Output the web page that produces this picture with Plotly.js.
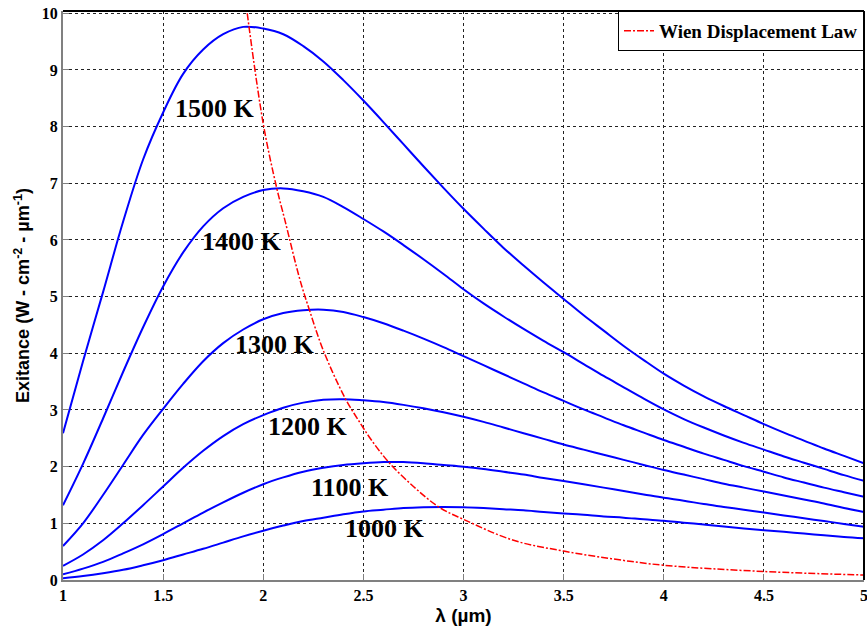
<!DOCTYPE html>
<html>
<head>
<meta charset="utf-8">
<script src="https://cdn.plot.ly/plotly-3.0.1.min.js"></script>
<style>html,body{margin:0;padding:0;background:#fff;}#chart{width:867px;height:627px;}</style>
</head>
<body>
<div id="chart"></div>
<script>
// wavelength grid (µm), step 0.1 from 1 to 5
const lam = [1.0, 1.1, 1.2, 1.3, 1.4, 1.5, 1.6, 1.7, 1.8, 1.9,
             2.0, 2.1, 2.2, 2.3, 2.4, 2.5, 2.6, 2.7, 2.8, 2.9,
             3.0, 3.1, 3.2, 3.3, 3.4, 3.5, 3.6, 3.7, 3.8, 3.9,
             4.0, 4.1, 4.2, 4.3, 4.4, 4.5, 4.6, 4.7, 4.8, 4.9, 5.0];

// exitance (W·cm^-2·µm^-1)
const ex1500 = [2.59, 3.86, 5.08, 6.32, 7.42, 8.25, 8.93, 9.36, 9.63, 9.76,
                9.73, 9.63, 9.42, 9.15, 8.82, 8.46, 8.08, 7.69, 7.30, 6.92,
                6.55, 6.20, 5.86, 5.55, 5.25, 4.96, 4.67, 4.40, 4.13, 3.88,
                3.64, 3.43, 3.24, 3.07, 2.91, 2.75, 2.60, 2.46, 2.32, 2.19, 2.06];
const ex1400 = [1.32, 2.05, 2.85, 3.67, 4.46, 5.18, 5.78, 6.24, 6.56, 6.76,
                6.88, 6.91, 6.86, 6.76, 6.58, 6.37, 6.15, 5.91, 5.66, 5.40,
                5.13, 4.88, 4.65, 4.43, 4.22, 4.02, 3.81, 3.60, 3.40, 3.20,
                3.01, 2.84, 2.69, 2.55, 2.42, 2.30, 2.18, 2.07, 1.96, 1.85, 1.75];
const ex1300 = [0.60, 1.00, 1.50, 2.03, 2.56, 3.02, 3.46, 3.86, 4.18, 4.42,
                4.60, 4.71, 4.76, 4.77, 4.73, 4.64, 4.53, 4.40, 4.26, 4.11,
                3.95, 3.79, 3.63, 3.47, 3.31, 3.16, 3.01, 2.87, 2.73, 2.60,
                2.47, 2.35, 2.23, 2.12, 2.01, 1.91, 1.81, 1.72, 1.63, 1.55, 1.47];
const ex1200 = [0.25, 0.45, 0.70, 1.00, 1.32, 1.65, 1.98, 2.28, 2.54, 2.75,
                2.91, 3.04, 3.13, 3.18, 3.19, 3.17, 3.14, 3.09, 3.03, 2.96,
                2.88, 2.79, 2.69, 2.59, 2.49, 2.39, 2.30, 2.21, 2.12, 2.03,
                1.94, 1.86, 1.78, 1.70, 1.63, 1.56, 1.49, 1.42, 1.35, 1.27, 1.20];
const ex1100 = [0.10, 0.20, 0.32, 0.47, 0.63, 0.81, 1.00, 1.19, 1.37, 1.54,
                1.69, 1.81, 1.91, 1.98, 2.03, 2.06, 2.08, 2.08, 2.06, 2.03,
                2.00, 1.96, 1.91, 1.86, 1.80, 1.745, 1.69, 1.63, 1.57, 1.51,
                1.45, 1.40, 1.34, 1.29, 1.24, 1.19, 1.14, 1.09, 1.04, 0.99, 0.94];
const ex1000 = [0.03, 0.07, 0.12, 0.18, 0.26, 0.35, 0.45, 0.55, 0.66, 0.77,
                0.87, 0.96, 1.04, 1.10, 1.16, 1.21, 1.24, 1.27, 1.285, 1.29,
                1.285, 1.27, 1.25, 1.23, 1.20, 1.175, 1.15, 1.12, 1.10, 1.07,
                1.045, 1.01, 0.98, 0.945, 0.91, 0.88, 0.85, 0.82, 0.79, 0.76, 0.735];

// Wien displacement locus (peak wavelength vs peak exitance)
const lamWien = [1.92, 2.0, 2.067, 2.108, 2.183, 2.23, 2.30, 2.41, 2.475, 2.54, 2.625, 2.75, 2.88, 3.0, 3.25, 3.5, 3.75, 4.0, 4.5, 5.0];
const exWien  = [10.0, 8.05, 6.92, 6.35, 5.30, 4.77, 4.05, 3.20, 2.82, 2.47, 2.085, 1.65, 1.28, 1.07, 0.70, 0.51, 0.37, 0.26, 0.15, 0.088];

const curveNames = ['1500 K', '1400 K', '1300 K', '1200 K', '1100 K', '1000 K'];
const labelX = [1.76, 1.894, 2.058, 2.223, 2.434, 2.608];
const labelY = [8.32, 5.98, 4.16, 2.71, 1.63, 0.90];

const curveY = [ex1500, ex1400, ex1300, ex1200, ex1100, ex1000];

const traces = curveY.map((ys, i) => ({
  x: lam, y: ys, type: 'scatter', mode: 'lines', name: curveNames[i],
  showlegend: false, hoverinfo: 'skip',
  line: {color: '#0000ff', width: 2, shape: 'spline', smoothing: 1}
}));
traces.push({
  x: lamWien, y: exWien, type: 'scatter', mode: 'lines', name: 'Wien Displacement Law',
  line: {color: '#ff0000', width: 1.5, dash: '7px,2px,2px,2px', shape: 'spline', smoothing: 1}
});

const serif = 'Liberation Serif, Times New Roman, serif';
const sans = 'Liberation Sans, Arial, sans-serif';

const annotations = curveNames.map((t, i) => ({
  x: labelX[i], y: labelY[i], xref: 'x', yref: 'y', text: t, showarrow: false,
  font: {family: serif, size: 26, color: '#000', weight: 'bold'}
}));

const layout = {
  width: 867, height: 627,
  margin: {l: 63, r: 3, t: 11, b: 47},
  paper_bgcolor: '#fff', plot_bgcolor: '#fff',
  showlegend: true,
  legend: {x: 1, y: 1, xanchor: 'right', yanchor: 'top', bgcolor: '#fff',
    bordercolor: '#000', borderwidth: 1, itemwidth: 30,
    font: {family: serif, size: 19, color: '#000', weight: 'bold'}},
  xaxis: {
    range: [1, 5], dtick: 0.5, tick0: 1, ticklabeloverflow: 'allow',
    showgrid: true, gridcolor: '#222', griddash: '3px,3px', gridwidth: 1,
    zeroline: false, showline: true, linecolor: '#808080', linewidth: 2, mirror: false,
    ticks: 'inside', ticklen: 6, tickcolor: '#808080', tickwidth: 1,
    tickfont: {family: serif, size: 16, color: '#000', weight: 'bold'},
    title: {text: 'λ (µm)', font: {family: sans, size: 19, color: '#000', weight: 'bold'}, standoff: 5}
  },
  yaxis: {
    range: [0, 10.04], dtick: 1, tick0: 0,
    showgrid: true, gridcolor: '#222', griddash: '3px,3px', gridwidth: 1,
    zeroline: false, showline: true, linecolor: '#808080', linewidth: 2, mirror: false,
    ticks: 'inside', ticklen: 6, tickcolor: '#808080', tickwidth: 1,
    tickfont: {family: serif, size: 16, color: '#000', weight: 'bold'},
    title: {text: 'Exitance (W - cm<sup>-2</sup> - µm<sup>-1</sup>)', font: {family: sans, size: 18, color: '#000', weight: 'bold'}, standoff: 7}
  },
  shapes: [
    {type: 'line', xref: 'paper', yref: 'paper', x0: 0, x1: 1, y0: 1, y1: 1, line: {color: '#000', width: 2}},
    {type: 'line', xref: 'paper', yref: 'paper', x0: 1, x1: 1, y0: 0, y1: 1, line: {color: '#000', width: 2}}
  ],
  annotations: annotations
};

Plotly.newPlot('chart', traces, layout, {displayModeBar: false, staticPlot: true});
</script>
</body>
</html>
